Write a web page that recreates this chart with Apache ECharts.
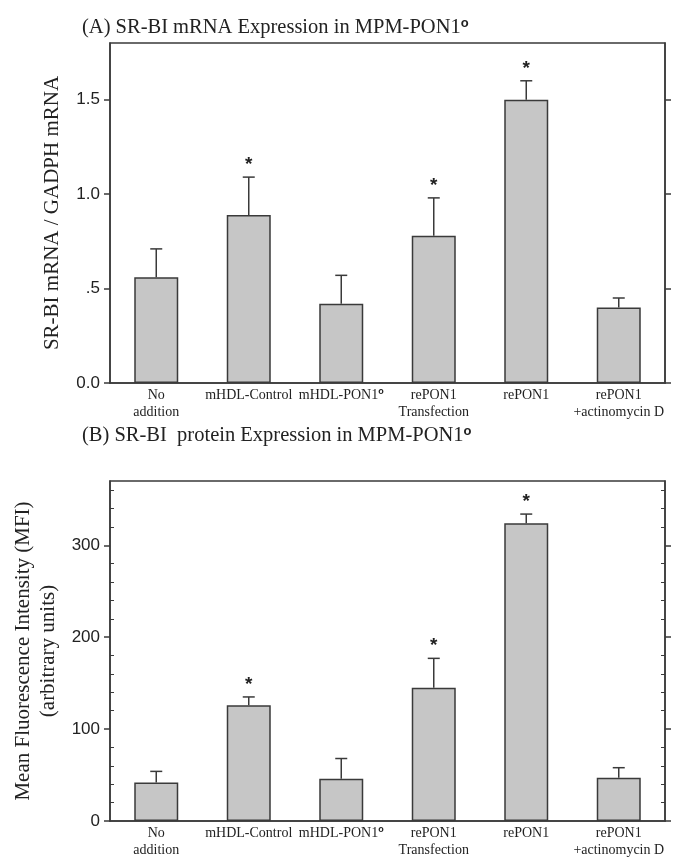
<!DOCTYPE html>
<html>
<head>
<meta charset="utf-8">
<script src="https://cdn.jsdelivr.net/npm/echarts@6/dist/echarts.min.js"></script>
<style>
  html, body { margin: 0; padding: 0; background: #fff; }
  #chart { width: 679px; height: 860px; }
</style>
</head>
<body>
<div id="chart"></div>
<script>
// groups, same for both panels
const categories = ['No\naddition', 'mHDL-Control', 'mHDL-PON1', 'rePON1\nTransfection', 'rePON1', 'rePON1\n+actinomycin D'];
const supCategory = 'mHDL-PON1';
const signif = [false, true, false, true, true, false];

// (A) SR-BI mRNA / GADPH mRNA
const mrnaMean = [0.56, 0.89, 0.42, 0.78, 1.50, 0.40];
const mrnaErr = [0.15, 0.20, 0.15, 0.20, 0.10, 0.05];
const mrnaTicks = [0, 0.5, 1.0, 1.5];
const mrnaTickLabels = ['0.0', '.5', '1.0', '1.5'];

// (B) MFI
const mfiMean = [42, 126, 46, 145, 324, 47];
const mfiErr = [12, 9, 22, 32, 10, 11];
const mfiTicks = [0, 100, 200, 300];
const mfiTickLabels = ['0', '100', '200', '300'];
const mfiMinorTicks = [20, 40, 60, 80, 120, 140, 160, 180, 220, 240, 260, 280, 320, 340, 360];

const SERIF = 'Liberation Serif';
const SANS = 'Liberation Sans';
const INK = '#222';
const LINE = '#3a3a3a';

const chart = echarts.init(document.getElementById('chart'), null, { renderer: 'canvas' });

function tickLabel(ticks, labels) {
  return function (v) {
    const i = ticks.findIndex(t => Math.abs(t - v) < 1e-9);
    return i < 0 ? '' : labels[i];
  };
}

const catLabel = {
  interval: 0,
  margin: 4,
  fontFamily: SERIF,
  fontSize: 14,
  lineHeight: 17,
  color: INK,
  formatter: function (v) {
    return v === supCategory ? v + '{sup|o}' : v;
  },
  rich: {
    sup: { fontFamily: SANS, fontWeight: 'bold', fontSize: 9, verticalAlign: 'top', lineHeight: 9, color: INK }
  }
};

function xAxisFor(grid) {
  return {
    type: 'category', gridIndex: grid, data: categories,
    axisLine: { show: true, lineStyle: { color: LINE, width: 1.5 } },
    axisTick: { show: false },
    axisLabel: catLabel
  };
}

function mainY(grid, max, ticks, labels, name, gap, pos) {
  const left = pos === 'left';
  return {
    type: 'value', gridIndex: grid, position: pos, min: 0, max: max,
    name: left ? name : '',
    nameLocation: 'middle', nameGap: gap,
    nameTextStyle: { fontFamily: SERIF, fontSize: 21, color: INK, lineHeight: 25 },
    axisLine: { show: true, lineStyle: { color: LINE, width: 1.5 } },
    axisTick: { show: true, length: 6, customValues: ticks, lineStyle: { color: LINE, width: 1.5 } },
    axisLabel: {
      show: left, customValues: ticks, margin: 10,
      fontFamily: SANS, fontSize: 17, color: INK,
      formatter: tickLabel(ticks, labels)
    },
    splitLine: { show: false }
  };
}

function minorY(grid, max, ticks, pos) {
  return {
    type: 'value', gridIndex: grid, position: pos, min: 0, max: max,
    axisLine: { show: false },
    axisTick: { show: true, inside: true, length: 4, customValues: ticks, lineStyle: { color: LINE, width: 1 } },
    axisLabel: { show: false },
    splitLine: { show: false }
  };
}

function errRender(params, api) {
  const i = api.value(0);
  const base = api.coord([i, api.value(1)]);
  const top = api.coord([i, api.value(1) + api.value(2)]);
  const st = { stroke: LINE, lineWidth: 1.5 };
  const kids = [
    { type: 'line', shape: { x1: base[0], y1: base[1], x2: top[0], y2: top[1] }, style: st },
    { type: 'line', shape: { x1: top[0] - 6, y1: top[1], x2: top[0] + 6, y2: top[1] }, style: st }
  ];
  if (api.value(3)) {
    kids.push({
      type: 'text',
      style: { text: '*', x: top[0], y: top[1] - 3, align: 'center', verticalAlign: 'bottom',
        font: 'bold 19px "Liberation Sans"', fill: INK }
    });
  }
  return { type: 'group', children: kids };
}

function errData(mean, err) {
  return mean.map((m, i) => [i, m, err[i], signif[i] ? 1 : 0]);
}

const barStyle = { color: '#c6c6c6', borderColor: LINE, borderWidth: 1.5 };
const titleStyle = {
  fontFamily: SERIF, fontSize: 20.5, fontWeight: 'normal', color: INK,
  rich: { sup: { fontFamily: SANS, fontWeight: 'bold', fontSize: 13, verticalAlign: 'top', lineHeight: 12, color: INK } }
};

chart.setOption({
  animation: false,
  backgroundColor: '#fff',
  title: [
    { text: '(A) SR-BI mRNA Expression in MPM-PON1{sup|o}', left: 77, top: 12, textStyle: titleStyle },
    { text: '(B) SR-BI  protein Expression in MPM-PON1{sup|o}', left: 77, top: 420, textStyle: titleStyle }
  ],
  grid: [
    { left: 110, right: 14, top: 43, height: 340, show: true, borderColor: LINE, borderWidth: 1.5 },
    { left: 110, right: 14, top: 481, height: 340, show: true, borderColor: LINE, borderWidth: 1.5 }
  ],
  xAxis: [xAxisFor(0), xAxisFor(1)],
  yAxis: [
    mainY(0, 1.8, mrnaTicks, mrnaTickLabels, 'SR-BI mRNA / GADPH mRNA', 44, 'left'),
    mainY(0, 1.8, mrnaTicks, mrnaTickLabels, '', 0, 'right'),
    mainY(1, 370, mfiTicks, mfiTickLabels, 'Mean Fluorescence Intensity (MFI)\n(arbitrary units)', 48, 'left'),
    mainY(1, 370, mfiTicks, mfiTickLabels, '', 0, 'right'),
    minorY(1, 370, mfiMinorTicks, 'left'),
    minorY(1, 370, mfiMinorTicks, 'right')
  ],
  series: [
    { type: 'bar', xAxisIndex: 0, yAxisIndex: 0, data: mrnaMean, barWidth: 44, itemStyle: barStyle },
    { type: 'custom', xAxisIndex: 0, yAxisIndex: 0, data: errData(mrnaMean, mrnaErr),
      encode: { x: 0, y: 1 }, renderItem: errRender, z: 3 },
    { type: 'bar', xAxisIndex: 1, yAxisIndex: 2, data: mfiMean, barWidth: 44, itemStyle: barStyle },
    { type: 'custom', xAxisIndex: 1, yAxisIndex: 2, data: errData(mfiMean, mfiErr),
      encode: { x: 0, y: 1 }, renderItem: errRender, z: 3 }
  ]
});
</script>
</body>
</html>
